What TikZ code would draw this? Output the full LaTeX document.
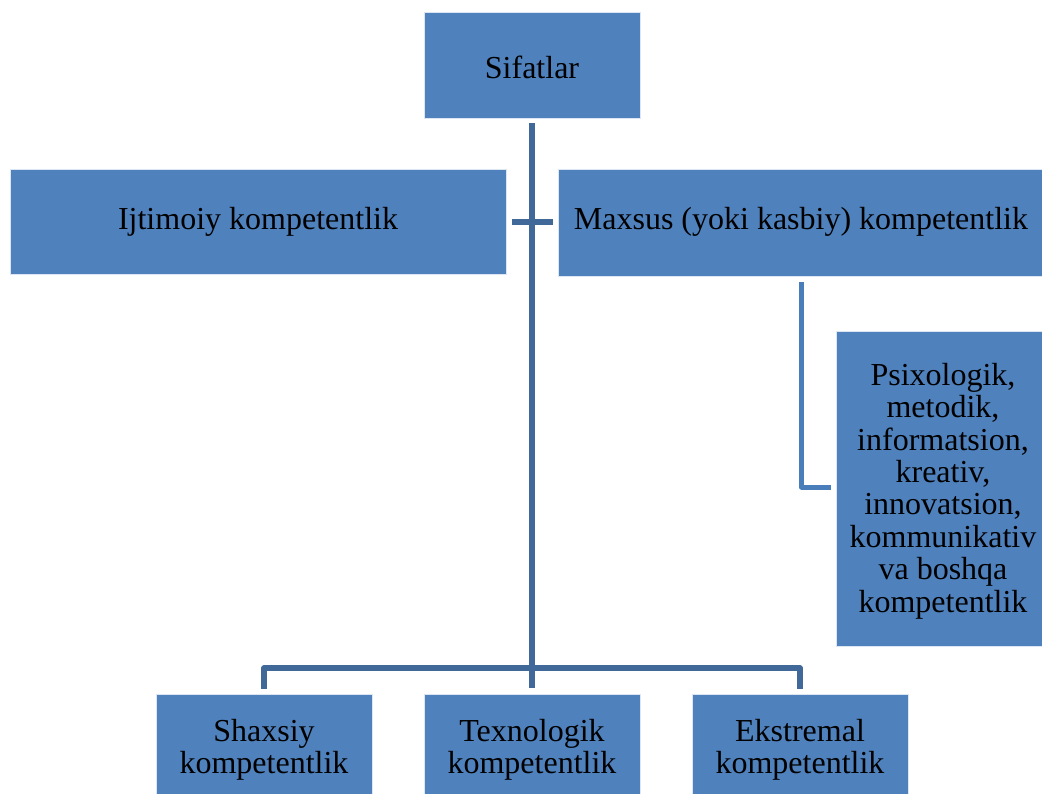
\documentclass[tikz,border=0pt]{standalone}
\usepackage{fontspec}
\setmainfont{Liberation Serif}
\definecolor{boxblue}{HTML}{4F81BD}
\definecolor{linedark}{HTML}{406898}
\definecolor{linelight}{HTML}{4A7EBB}
\begin{document}
\begin{tikzpicture}[x=1pt,y=-1pt,
  box/.style={fill=boxblue,draw=white!80!boxblue,line width=0.8pt,inner sep=0pt,align=center},
  lbl/.style={font=\fontsize{32}{32.5}\selectfont,align=center,inner sep=0pt},
  conn/.style={draw=linedark,line width=5.5pt,line join=round},
  connl/.style={draw=linelight,line width=5pt,line join=round}]
\useasboundingbox (0,0) rectangle (1042,794);
\node[box,minimum width=216,minimum height=106] (sif) at (532,65) {};
\node[lbl] at (532,67) (sift) {Sifatlar};
\node[box,minimum width=496,minimum height=105] (ijt) at (258,222) {};
\node[lbl] at (258,222) (ijtt) {Ijtimoiy kompetentlik};
\node[box,minimum width=490,minimum height=107] (max) at (803,222.5) {};
\node[lbl] at (801,222) (maxt) {Maxsus (yoki kasbiy) kompetentlik};
\node[box,minimum width=212,minimum height=315] (psi) at (942,489) {};
\node[lbl,font=\fontsize{32}{32.4}\selectfont] at (943,491) (psit) {Psixologik,\\metodik,\\informatsion,\\kreativ,\\innovatsion,\\kommunikativ\\va boshqa\\kompetentlik};
\node[box,minimum width=216,minimum height=110] (sha) at (264,749) {};
\node[lbl] at (264,750) (shat) {Shaxsiy\\kompetentlik};
\node[box,minimum width=216,minimum height=110] (tex) at (532,749) {};
\node[lbl] at (532,750) (text) {Texnologik\\kompetentlik};
\node[box,minimum width=216,minimum height=110] (eks) at (800,749) {};
\node[lbl] at (800,750) (ekst) {Ekstremal\\kompetentlik};
% connectors
\coordinate (vtop) at ([yshift=-5pt]sif.south);
\coordinate (vbot) at ([yshift=6pt]tex.north);
\draw[conn] (vtop) -- (vbot);
\draw[conn] ([xshift=6pt]ijt.east |- ijt.center) -- ([xshift=-5pt]max.west |- ijt.center);
\coordinate (hy) at (0,668);
\draw[conn] ([yshift=5pt]sha.north) -- (sha.north |- hy) -- (eks.north |- hy) -- ([yshift=5pt]eks.north);
\coordinate (mx) at (801.5,0);
\coordinate (my) at (0,487);
\draw[connl] (mx |- max.south) ++(0,6) -- (mx |- my) -- ([xshift=-5pt]psi.west |- my);
\end{tikzpicture}
\end{document}
